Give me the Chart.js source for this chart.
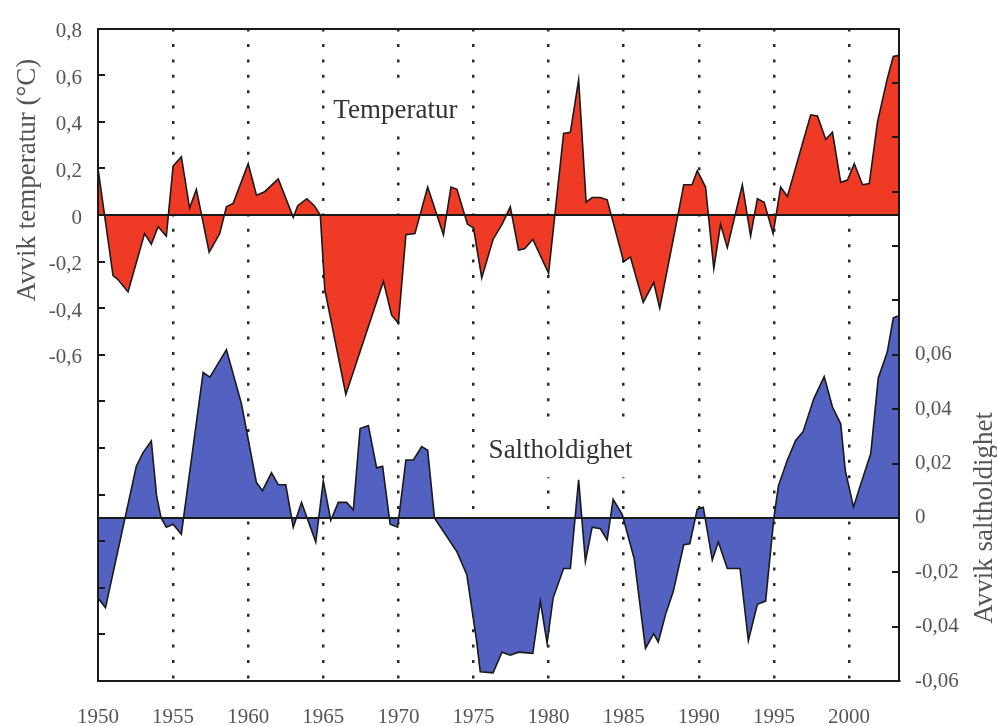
<!DOCTYPE html>
<html>
<head>
<meta charset="utf-8">
<script src="https://cdn.jsdelivr.net/npm/chart.js@4.4.1/dist/chart.umd.min.js"></script>
<style>
  html, body { margin: 0; padding: 0; background: #fff; }
  #wrap { width: 997px; height: 726px; position: relative; }
</style>
</head>
<body>
<div id="wrap"><canvas id="c"></canvas></div>
<script>
// Temperature anomaly (°C) – year / value pairs
const tempYears = [
  1950.0, 1951.0, 1951.3, 1952.0, 1953.1, 1953.55, 1954.0, 1954.55, 1955.0, 1955.55,
  1956.1, 1956.55, 1957.4, 1958.1, 1958.55, 1959.0, 1960.0, 1960.55, 1961.1, 1962.0,
  1963.0, 1963.3, 1963.9, 1964.4, 1964.8, 1965.1, 1966.5, 1969.0, 1969.55, 1970.0,
  1970.5, 1971.1, 1971.95, 1973.0, 1973.5, 1973.9, 1974.6, 1975.0, 1975.55, 1976.3,
  1976.9, 1977.45, 1978.0, 1978.4, 1978.95, 1980.0, 1981.0, 1981.45, 1982.0, 1982.5,
  1982.9, 1983.45, 1983.9, 1985.0, 1985.45, 1986.3, 1987.0, 1987.4, 1988.3, 1989.0,
  1989.55, 1989.9, 1990.45, 1991.0, 1991.45, 1991.9, 1992.9, 1993.45, 1993.9, 1994.35,
  1994.95, 1995.45, 1995.9, 1997.45, 1997.9, 1998.45, 1998.9, 1999.45, 1999.9, 2000.35,
  2000.9, 2001.35, 2001.9, 2002.55, 2002.95, 2003.33
];
const tempDev = [
  0.20, -0.26, -0.275, -0.33, -0.08, -0.125, -0.05, -0.09, 0.21, 0.25,
  0.03, 0.11, -0.16, -0.08, 0.035, 0.05, 0.22, 0.085, 0.10, 0.155,
  -0.01, 0.04, 0.07, 0.04, 0.0, -0.32, -0.77, -0.285, -0.43, -0.465,
  -0.085, -0.08, 0.12, -0.085, 0.12, 0.11, -0.04, -0.055, -0.27, -0.105,
  -0.04, 0.035, -0.15, -0.145, -0.105, -0.25, 0.35, 0.355, 0.58, 0.055,
  0.075, 0.075, 0.065, -0.20, -0.18, -0.375, -0.29, -0.40, -0.105, 0.13,
  0.13, 0.19, 0.12, -0.23, -0.04, -0.14, 0.13, -0.09, 0.07, 0.055,
  -0.08, 0.12, 0.08, 0.43, 0.425, 0.325, 0.355, 0.14, 0.15, 0.22,
  0.13, 0.135, 0.40, 0.585, 0.68, 0.685
];

// Salinity anomaly – year / value pairs
const saltYears = [
  1950.0, 1950.5, 1952.55, 1953.0, 1953.55, 1953.9, 1954.2, 1954.55, 1955.0, 1955.55,
  1957.0, 1957.45, 1958.55, 1959.55, 1960.55, 1960.95, 1961.55, 1962.0, 1962.5, 1963.0,
  1963.55, 1964.5, 1965.0, 1965.5, 1966.0, 1966.55, 1967.0, 1967.45, 1968.0, 1968.55,
  1968.95, 1969.45, 1969.95, 1970.5, 1971.0, 1971.55, 1971.95, 1972.4, 1973.9, 1974.55,
  1975.2, 1975.45, 1976.3, 1976.9, 1977.45, 1978.0, 1978.95, 1979.45, 1979.9, 1980.3,
  1981.0, 1981.45, 1982.0, 1982.45, 1982.9, 1983.45, 1983.9, 1984.3, 1984.9, 1985.7,
  1986.45, 1987.0, 1987.3, 1987.8, 1988.3, 1989.0, 1989.4, 1989.9, 1990.3, 1990.9,
  1991.3, 1991.9, 1992.75, 1993.3, 1993.9, 1994.45, 1995.0, 1995.3, 1995.9, 1996.45,
  1996.95, 1997.65, 1998.35, 1998.9, 1999.45, 1999.75, 2000.3, 2000.75, 2001.45, 2001.95,
  2002.55, 2002.95, 2003.33
];
const saltDev = [
  -0.0295, -0.033, 0.019, 0.024, 0.0283, 0.0082, 0.0, -0.0034, -0.0023, -0.006,
  0.0535, 0.0518, 0.0619, 0.042, 0.013, 0.010, 0.0166, 0.0122, 0.0122, -0.0034,
  0.0057, -0.0089, 0.0136, -0.0009, 0.0057, 0.0057, 0.003, 0.0329, 0.034, 0.0184,
  0.019, -0.0023, -0.0034, 0.0213, 0.0213, 0.0262, 0.0249, 0.0, -0.0125, -0.0208,
  -0.045, -0.0566, -0.057, -0.0494, -0.0505, -0.0494, -0.0498, -0.0306, -0.0461, -0.0295,
  -0.0186, -0.0186, 0.0140, -0.016, -0.0034, -0.004, -0.0081, 0.0068, 0.0013, -0.015,
  -0.048, -0.0426, -0.0457, -0.0353, -0.0271, -0.0099, -0.0095, 0.0032, 0.0039, -0.0155,
  -0.0089, -0.0186, -0.0186, -0.0452, -0.0318, -0.0306, 0.0, 0.0118, 0.0213, 0.0285,
  0.0318, 0.0437, 0.052, 0.0408, 0.0346, 0.0176, 0.004, 0.0118, 0.0237, 0.0515,
  0.061, 0.0736, 0.0744
];

// Axis ticks and their labels
const yearTicks = [1950, 1955, 1960, 1965, 1970, 1975, 1980, 1985, 1990, 1995, 2000];
const tempTicks = [0.8, 0.6, 0.4, 0.2, 0, -0.2, -0.4, -0.6, -0.8, -1.0, -1.2, -1.4, -1.6, -1.8, -2.0];
const tempTickLabels = ['0,8', '0,6', '0,4', '0,2', '0', '-0,2', '-0,4', '-0,6', '', '', '', '', '', '', ''];
const saltTicks = [0.18, 0.16, 0.14, 0.12, 0.10, 0.08, 0.06, 0.04, 0.02, 0, -0.02, -0.04, -0.06];
const saltTickLabels = ['', '', '', '', '', '', '0,06', '0,04', '0,02', '0', '-0,02', '-0,04', '-0,06'];

const tempTitle = 'Avvik temperatur (°C)';
const saltTitle = 'Avvik saltholdighet';
const tempName = 'Temperatur';
const saltName = 'Saltholdighet';

const SERIF = '"Liberation Serif", "Times New Roman", serif';
const INK = '#1a1a1a';

const pairs = (xs, ys) => xs.map((x, i) => ({ x, y: ys[i] }));
const setTicks = (vals) => (scale) => { scale.ticks = vals.map(v => ({ value: v })); };

// Caption on a white plate, so the dotted year lines stop around it
function caption(ctx, text, cx, cy, padX, padY) {
  const w = ctx.measureText(text).width;
  ctx.fillStyle = '#fff';
  ctx.fillRect(cx - w / 2 - padX, cy - 14 - padY, w + 2 * padX, 28 + 2 * padY);
  ctx.fillStyle = '#333';
  ctx.fillText(text, cx, cy);
}

// Inward tick marks, rotated axis titles and the two series captions
const decor = {
  id: 'decor',
  afterDraw(chart) {
    const { ctx, chartArea, scales } = chart;
    const yT = scales.yT, yS = scales.yS, x = scales.x;
    ctx.save();
    ctx.strokeStyle = INK;
    ctx.lineWidth = 2;
    ctx.beginPath();
    tempTicks.forEach(v => {
      const py = Math.round(yT.getPixelForValue(v));
      ctx.moveTo(chartArea.left, py);
      ctx.lineTo(chartArea.left + 7, py);
    });
    saltTicks.forEach(v => {
      const py = Math.round(yS.getPixelForValue(v));
      ctx.moveTo(chartArea.right - 7, py);
      ctx.lineTo(chartArea.right, py);
    });
    ctx.stroke();

    ctx.fillStyle = '#555';
    ctx.font = '27px ' + SERIF;
    ctx.textAlign = 'center';
    ctx.textBaseline = 'middle';
    ctx.save();
    ctx.translate(28, yT.getPixelForValue(0.15));
    ctx.rotate(-Math.PI / 2);
    ctx.fillText(tempTitle, 0, 0);
    ctx.restore();
    ctx.save();
    ctx.translate(chart.width - 12, yS.getPixelForValue(0));
    ctx.rotate(-Math.PI / 2);
    ctx.fillText(saltTitle, 0, 0);
    ctx.restore();

    caption(ctx, tempName, x.getPixelForValue(1969.8), yT.getPixelForValue(0.445), 6, 8);
    caption(ctx, saltName, x.getPixelForValue(1980.8), yS.getPixelForValue(0.0245), 6, 12);
    ctx.restore();
  }
};

const yGridColor = (c) => (c.tick && c.tick.value === 0 ? INK : 'rgba(0,0,0,0)');

new Chart(document.getElementById('c'), {
  type: 'line',
  data: {
    datasets: [
      {
        label: tempName,
        data: pairs(tempYears, tempDev),
        yAxisID: 'yT',
        borderColor: INK,
        borderWidth: 1.6,
        backgroundColor: '#ef3b26',
        fill: 'origin',
        pointRadius: 0,
        tension: 0
      },
      {
        label: saltName,
        data: pairs(saltYears, saltDev),
        yAxisID: 'yS',
        borderColor: INK,
        borderWidth: 1.6,
        backgroundColor: '#5361c0',
        fill: 'origin',
        pointRadius: 0,
        tension: 0
      }
    ]
  },
  options: {
    responsive: true,
    maintainAspectRatio: false,
    animation: false,
    layout: { padding: 0 },
    plugins: { legend: { display: false }, tooltip: { enabled: false } },
    scales: {
      x: {
        type: 'linear',
        position: 'bottom',
        min: 1950,
        max: 2003.33,
        afterBuildTicks: setTicks(yearTicks),
        afterFit: (s) => { s.height = 45; },
        ticks: {
          color: '#555',
          font: { family: SERIF, size: 21 },
          padding: 24,
          maxRotation: 0,
          autoSkip: false,
          callback: (v) => String(v)
        },
        grid: {
          drawTicks: false,
          lineWidth: 2.5,
          color: (c) => (c.tick && c.tick.value === 1950 ? 'rgba(0,0,0,0)' : '#2a2a2a')
        },
        border: { display: true, color: INK, width: 2, dash: [3, 12.4], z: 1 }
      },
      xTop: {
        type: 'linear',
        position: 'top',
        min: 1950,
        max: 2003.33,
        afterFit: (s) => { s.height = 20; },
        ticks: { display: false },
        grid: { display: false },
        border: { display: true, color: INK, width: 2, z: 1 }
      },
      yT: {
        type: 'linear',
        position: 'left',
        min: -2.0,
        max: 0.8,
        afterBuildTicks: setTicks(tempTicks),
        afterFit: (s) => { s.width = 98; },
        ticks: {
          color: '#555',
          font: { family: SERIF, size: 21 },
          padding: 16,
          labelOffset: 3,
          autoSkip: false,
          callback: (v, i) => tempTickLabels[i]
        },
        grid: { drawTicks: false, color: yGridColor, lineWidth: 2, z: 1 },
        border: { display: true, color: INK, width: 2, z: 1 }
      },
      yS: {
        type: 'linear',
        position: 'right',
        min: -0.06,
        max: 0.18,
        afterBuildTicks: setTicks(saltTicks),
        afterFit: (s) => { s.width = 98; },
        ticks: {
          color: '#555',
          font: { family: SERIF, size: 21 },
          padding: 16,
          autoSkip: false,
          callback: (v, i) => saltTickLabels[i]
        },
        grid: { drawTicks: false, color: yGridColor, lineWidth: 2, z: 1 },
        border: { display: true, color: INK, width: 2, z: 1 }
      }
    }
  },
  plugins: [decor]
});
</script>
</body>
</html>
